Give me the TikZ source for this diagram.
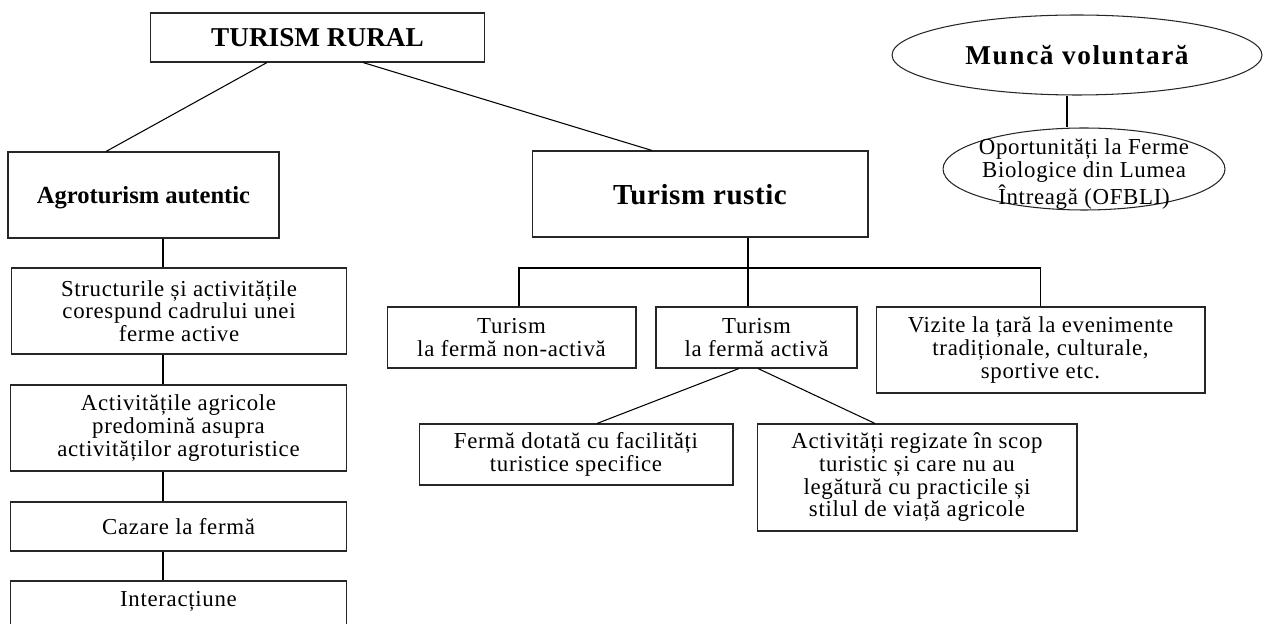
\documentclass[tikz,border=0pt]{standalone}
\usepackage{fontspec}
\setmainfont{Liberation Serif}[LetterSpace=3]
\usetikzlibrary{shapes.geometric}

\begin{document}
\begin{tikzpicture}[x=0.02cm,y=-0.02cm,line width=0.6pt,
    box/.style={draw=black!85,align=center,inner sep=0pt,
      font=\fontsize{13}{12.9}\selectfont},
    head box/.style={box,text depth=0pt,font=\fontsize{14}{16}\selectfont\bfseries\addfontfeatures{LetterSpace=0}},
    oval/.style={draw=black!85,ellipse,inner sep=0pt}]
  \useasboundingbox (0,0) rectangle (1265,624);
  \node[box,minimum width=6.7cm,minimum height=0.98cm,
    font=\fontsize{15.5}{18}\selectfont\bfseries\addfontfeatures{LetterSpace=0}] (rural) at (317.5,37.5) {TURISM RURAL};
  \node[head box,minimum width=5.42cm,minimum height=1.72cm] (agro_aut) at (143.5,195) {Agroturism autentic};
  \node[head box,minimum width=6.72cm,minimum height=1.72cm,
    font=\fontsize{16.5}{18}\selectfont\bfseries\addfontfeatures{LetterSpace=2}] (rustic) at (700,194) {Turism rustic};
  % coloana din stanga
  \coordinate (spine) at (163,0);
  \node[box,minimum width=6.72cm,minimum height=1.72cm] (agro_struct) at (179,311) {Structurile și activitățile\\ corespund cadrului unei\\ ferme active};
  \node[box,minimum width=6.74cm,minimum height=1.72cm] (agro_pred) at (178.5,428) {Activitățile agricole\\ predomină asupra\\ activităților agroturistice};
  \node[box,minimum width=6.74cm,minimum height=0.98cm] (agro_caz) at (178.5,526.5) {Cazare la fermă};
  \node[box,minimum width=6.74cm,minimum height=1.3cm] (agro_int) at (178.5,613.5) {Interacțiune\\ \strut};
  % turism rustic
  \coordinate (fork) at (748,268);
  \node[box,minimum width=4.98cm,minimum height=1.22cm] (rustic_non) at (511.5,337.5) {Turism\\ la fermă non-activă};
  \node[box,minimum width=4.02cm,minimum height=1.22cm] (rustic_act) at (756.5,337.5) {Turism\\ la fermă activă};
  \node[box,minimum width=6.58cm,minimum height=1.72cm] (rustic_viz) at (1040.5,350) {Vizite la țară la evenimente\\ tradiționale, culturale,\\ sportive etc.};
  \node[box,minimum width=6.28cm,minimum height=1.22cm] (act_dot) at (576,454.5) {Fermă dotată cu facilități\\ turistice specifice};
  \node[box,minimum width=6.4cm,minimum height=2.14cm] (act_reg) at (917,477.5) {Activități regizate în scop\\ turistic și care nu au\\ legătură cu practicile și\\ stilul de viață agricole};
  % munca voluntara
  \node[oval,minimum width=7.4cm,minimum height=1.6cm,
    font=\fontsize{15.5}{18}\selectfont\bfseries\addfontfeatures{LetterSpace=6}] (munca) at (1077,55) {Muncă voluntară};
  \node[oval,minimum width=5.64cm,minimum height=1.64cm,
    label={[align=center,yshift=-0.1cm,font=\fontsize{13}{13.2}\selectfont]center:Oportunități la Ferme\\ Biologice din Lumea\\ Întreagă (OFBLI)}] (ofbli) at (1084,169) {};

  \path[draw=black]
    ([xshift=-1.01cm]rural.south) edge ([xshift=-0.75cm]agro_aut.north)
    ([xshift=0.91cm]rural.south) edge ([xshift=-0.96cm]rustic.north)
    (agro_aut.south -| spine) edge (agro_struct.north -| spine)
    (agro_struct.south -| spine) edge (agro_pred.north -| spine)
    (agro_pred.south -| spine) edge (agro_caz.north -| spine)
    (agro_caz.south -| spine) edge (agro_int.north -| spine)
    (rustic.south -| fork) edge (fork)
    (fork) edge (fork |- rustic_act.north)
    ([xshift=-0.35cm]rustic_act.south) edge ([xshift=0.42cm]act_dot.north)
    ([xshift=0.03cm]rustic_act.south) edge ([xshift=-0.84cm]act_reg.north)
    ([xshift=-0.2cm]munca.south) edge ([xshift=-0.2cm]munca.south |- ofbli.north)
    ;
  \draw ([xshift=0.15cm]rustic_non.north) |- (fork) -| (rustic_viz.north);
\end{tikzpicture}
\end{document}
